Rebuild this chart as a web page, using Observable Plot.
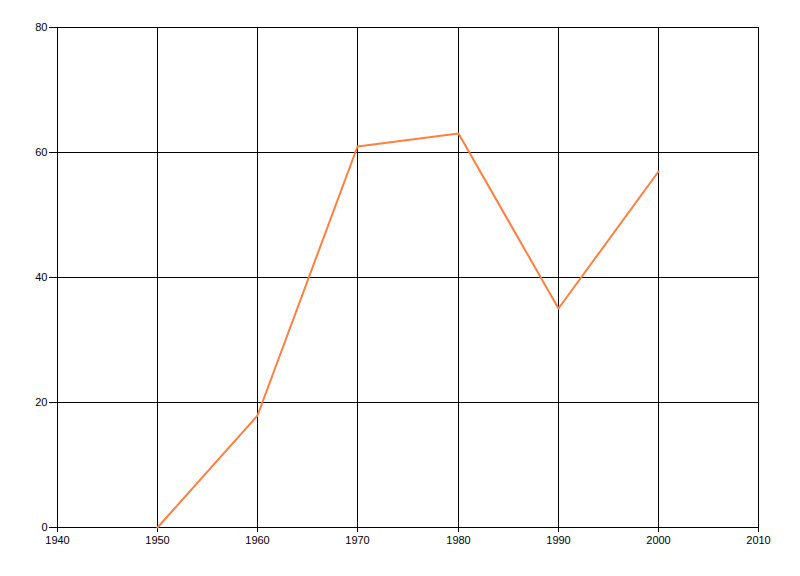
<!DOCTYPE html>
<html>
<head>
<meta charset="utf-8">
<script src="https://cdn.jsdelivr.net/npm/d3@7"></script>
<script src="https://cdn.jsdelivr.net/npm/@observablehq/plot@0.6"></script>
<style>
  html, body { margin: 0; padding: 0; background: #fff; }
  #chart svg { display: block; }
</style>
</head>
<body>
<div id="chart"></div>
<script>
const years = [1950, 1960, 1970, 1980, 1990, 2000];
const values = [0, 18, 61, 63, 35, 57];
const xTicks = [1940, 1950, 1960, 1970, 1980, 1990, 2000, 2010];
const yTicks = [0, 20, 40, 60, 80];

const data = years.map((y, i) => ({year: y, value: values[i]}));

const chart = Plot.plot({
  width: 800,
  height: 576,
  marginLeft: 57,
  marginRight: 42,
  marginTop: 27,
  marginBottom: 49,
  style: {fontFamily: "'Liberation Sans', Arial, sans-serif", fontSize: "11px", background: "#fff", color: "#000"},
  x: {domain: [1940, 2010], ticks: xTicks, tickFormat: d => String(d), round: true},
  y: {domain: [0, 80], ticks: yTicks, round: true},
  marks: [
    Plot.gridX(xTicks, {stroke: "#000", strokeOpacity: 1}),
    Plot.gridY(yTicks, {stroke: "#000", strokeOpacity: 1}),
    Plot.axisX(xTicks, {tickSize: 5, tickPadding: 4, tickFormat: d => String(d), label: null, fontSize: 11}),
    Plot.axisY(yTicks, {tickSize: 8, tickPadding: 2, label: null, fontSize: 11}),
    Plot.line(data, {x: "year", y: "value", stroke: "#FF7F3F", strokeWidth: 2})
  ]
});
document.getElementById("chart").appendChild(chart);
</script>
</body>
</html>
